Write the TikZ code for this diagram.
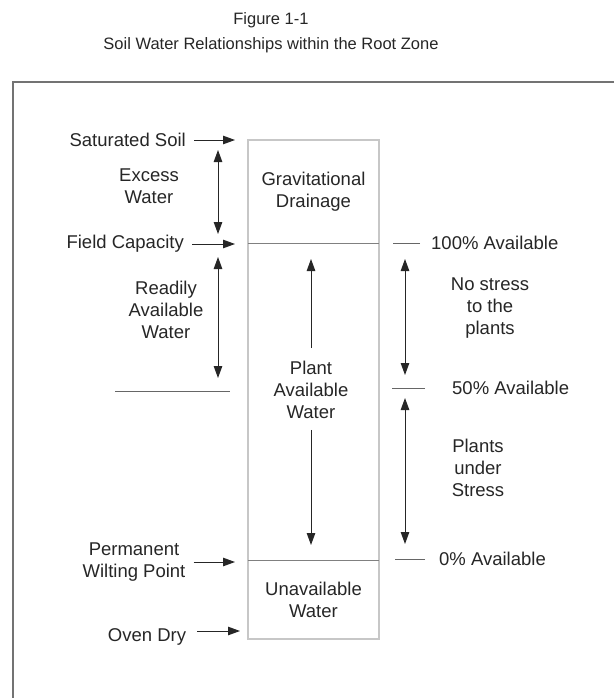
\documentclass[tikz,border=0pt]{standalone}
\usepackage{fontspec}
\setmainfont{Liberation Sans}
\usetikzlibrary{arrows.meta, positioning}

\begin{document}
\begin{tikzpicture}[x=1pt, y=-1pt,
      lbl/.style={font=\fontsize{18.5}{22}\selectfont, align=center,
                  text=black!85, inner sep=0pt},
      zone/.style={lbl, minimum width=131pt},
      arr/.style={-{Triangle[length=12pt, width=8.5pt]}, line width=1pt,
                  black!85, shorten <=8pt},
      darr/.style={{Triangle[length=12pt, width=8.5pt]}-{Triangle[length=12pt, width=8.5pt]},
                   line width=1pt, black!85},
      tick/.style={line width=1pt, black!60}
    ]
    \useasboundingbox (0,0) rectangle (614,698);

    %% ---- title ----
    \node[font=\fontsize{16.5}{25}\selectfont, align=center, text=black!85]
          at (271,33) (title) {Figure 1-1\\Soil Water Relationships within the Root Zone};

    %% outer frame (top and left edge only)
    \draw[black!55, line width=1.5pt] (614,82) -- (13,82) -- (13,698);

    %% ---- the soil column ----
    \node[zone, minimum height=103pt] at (313.5,191.5) (grav) {Gravitational\\Drainage};
    \node[zone, minimum height=317pt] at (313.5,401.5) (paw)  {};
    \node[zone, minimum height=79pt]  at (313.5,599.5) (unav) {Unavailable\\Water};
    \node[lbl] at (311,390) (pawtxt) {Plant\\Available\\Water};

    \draw[black!22, line width=2.5pt] (grav.north west) rectangle (unav.south east);
    \draw[black!50, line width=1.2pt] (grav.south west) -- (grav.south east);
    \draw[black!50, line width=1.2pt] (paw.south west) -- (paw.south east);

    %% arrows inside the column
    \coordinate (pawtop) at (311,259);
    \coordinate (pawbot) at (311,545);
    \draw[arr, shorten <=0pt] ([yshift=13pt]pawtxt.north) -- (pawtop);
    \draw[arr, shorten <=0pt] ([yshift=-11pt]pawtxt.south) -- (pawbot);

    %% ---- left side labels ----
    \node[lbl, anchor=east] at (186,140) (sat) {Saturated Soil};
    \node[lbl, anchor=east] at (184,244) (fc)  {Field Capacity};
    \node[lbl] at (134,562) (pwp) {Permanent\\Wilting Point};
    \node[lbl] at (147,637) (dry) {Oven Dry};

    \coordinate (satpt) at (235,140);
    \coordinate (fcpt)  at (235,244);
    \coordinate (pwppt) at (235,562);
    \coordinate (drypt) at (240,631);

    \draw[arr] (sat.east) -- (satpt);
    \draw[arr] (fc.east)  -- (fcpt);
    \draw[arr] (pwp.east |- pwppt) -- (pwppt);
    \draw[arr, shorten <=11pt] (dry.east |- drypt) -- (drypt);

    %% left ranges
    \node[lbl] at (149,186) (excess) {Excess\\Water};
    \node[lbl] at (166,310) (raw)    {Readily\\Available\\Water};

    \coordinate (ex1) at (218,150);
    \coordinate (ex2) at (218,234);
    \coordinate (ra1) at (218,257);
    \coordinate (ra2) at (218,378);
    \draw[darr] (ex1) -- (ex2);
    \draw[darr] (ra1) -- (ra2);

    \coordinate (half1) at (115,391);
    \coordinate (half2) at (230,391);
    \draw[tick] (half1) -- (half2);

    %% ---- right side labels ----
    \node[lbl, anchor=west] at (431,243) (a100) {100\% Available};
    \node[lbl, anchor=west] at (452,388) (a50)  {50\% Available};
    \node[lbl, anchor=west] at (439,559) (a0)   {0\% Available};

    \draw[tick] ([xshift=-11pt]a100.west) -- ++(-27,0);
    \draw[tick] ([xshift=-27pt]a50.west)  -- ++(-33,0);
    \draw[tick] ([xshift=-14pt]a0.west)   -- ++(-30,0);

    \node[lbl] at (490,308) (nostress) {No stress\\to the\\plants};
    \node[lbl] at (478,468) (stress)   {Plants\\under\\Stress};

    \coordinate (ns1) at (405,259);
    \coordinate (ns2) at (405,375);
    \coordinate (st1) at (405,398);
    \coordinate (st2) at (405,544);
    \draw[darr] (ns1) -- (ns2);
    \draw[darr] (st1) -- (st2);

  \end{tikzpicture}
\end{document}
